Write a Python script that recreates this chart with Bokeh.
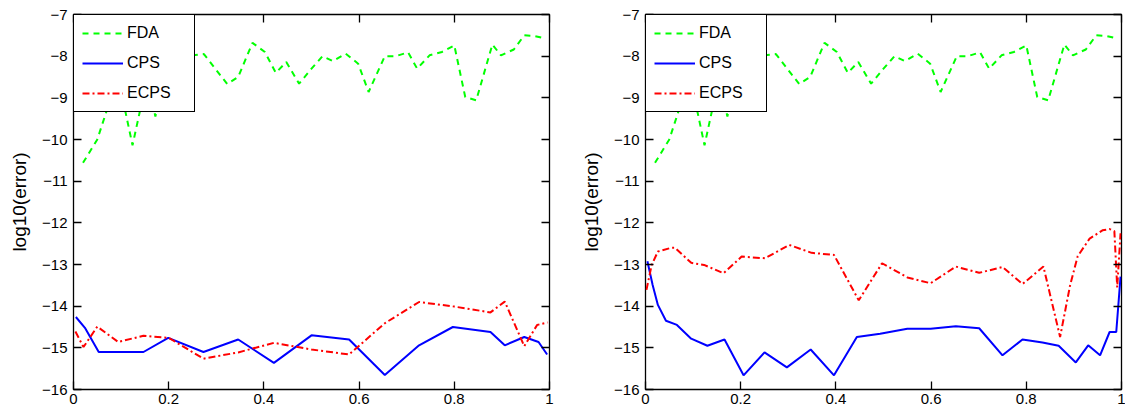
from bokeh.plotting import figure
from bokeh.models import Range1d, FixedTicker, LinearAxis, CustomJSTickFormatter
from bokeh.layouts import row
from bokeh.embed import file_html
from bokeh.resources import INLINE

# ---------------- data ----------------
x_ticks = [0, 0.2, 0.4, 0.6, 0.8, 1]
x_tick_labels = ["0", "0.2", "0.4", "0.6", "0.8", "1"]
y_ticks = [-7, -8, -9, -10, -11, -12, -13, -14, -15, -16]
y_tick_labels = ["\u22127", "\u22128", "\u22129", "\u221210", "\u221211",
                 "\u221212", "\u221213", "\u221214", "\u221215", "\u221216"]
y_label = "log10(error)"
series_names = ["FDA", "CPS", "ECPS"]

# FDA (same in both panels)
fda_x = [0.02, 0.05, 0.07, 0.09, 0.124, 0.155, 0.172, 0.2, 0.225, 0.25,
         0.274, 0.323, 0.346, 0.376, 0.402, 0.425, 0.447, 0.474, 0.5, 0.523,
         0.545, 0.572, 0.598, 0.62, 0.654, 0.677, 0.703, 0.722, 0.748, 0.774,
         0.8, 0.823, 0.846, 0.88, 0.898, 0.925, 0.947, 0.97, 0.992]
fda_y = [-10.56, -10.0, -9.3, -8.3, -10.14, -8.5, -9.45, -8.1, -8.4, -7.98,
         -7.95, -8.67, -8.5, -7.68, -7.9, -8.4, -8.14, -8.66, -8.3, -8.0,
         -8.12, -7.94, -8.18, -8.86, -8.0, -8.0, -7.91, -8.3, -7.98, -7.9,
         -7.74, -8.98, -9.06, -7.72, -7.98, -7.84, -7.5, -7.52, -7.58]

# left panel
cps_left_x = [0.005, 0.024, 0.053, 0.147, 0.199, 0.273, 0.346, 0.421, 0.5,
              0.579, 0.654, 0.726, 0.797, 0.876, 0.906, 0.947, 0.977, 0.995]
cps_left_y = [-14.26, -14.52, -15.1, -15.1, -14.76, -15.1, -14.8, -15.36, -14.7,
              -14.8, -15.65, -14.94, -14.5, -14.62, -14.94, -14.74, -14.86, -15.16]
ecps_left_x = [0.004, 0.021, 0.05, 0.094, 0.147, 0.2, 0.273, 0.346, 0.421, 0.5,
               0.579, 0.654, 0.726, 0.8, 0.876, 0.906, 0.947, 0.974, 0.996]
ecps_left_y = [-14.61, -14.98, -14.49, -14.86, -14.71, -14.76, -15.26, -15.11,
               -14.88, -15.04, -15.16, -14.41, -13.9, -14.01, -14.15, -13.89,
               -14.96, -14.45, -14.39]

# right panel
cps_right_x = [0.004, 0.015, 0.026, 0.043, 0.066, 0.096, 0.13, 0.166, 0.206, 0.25,
               0.297, 0.347, 0.396, 0.444, 0.493, 0.55, 0.599, 0.652, 0.701, 0.75,
               0.792, 0.834, 0.868, 0.904, 0.93, 0.955, 0.975, 0.989, 0.998]
cps_right_y = [-12.92, -13.49, -13.97, -14.35, -14.45, -14.78, -14.95, -14.8, -15.66,
               -15.11, -15.47, -15.04, -15.66, -14.74, -14.66, -14.54, -14.54, -14.48,
               -14.53, -15.18, -14.8, -14.87, -14.95, -15.35, -14.94, -15.18, -14.62,
               -14.62, -13.29]
ecps_right_x = [0.002, 0.013, 0.026, 0.054, 0.062, 0.096, 0.123, 0.164, 0.202, 0.251,
                0.302, 0.349, 0.396, 0.448, 0.497, 0.55, 0.599, 0.652, 0.701, 0.75,
                0.792, 0.836, 0.871, 0.892, 0.908, 0.933, 0.96, 0.975, 0.985, 0.991,
                0.998]
ecps_right_y = [-13.61, -13.01, -12.69, -12.6, -12.6, -12.96, -13.01, -13.21, -12.81,
                -12.85, -12.53, -12.72, -12.77, -13.86, -12.97, -13.31, -13.45, -13.05,
                -13.2, -13.06, -13.47, -13.05, -14.74, -13.5, -12.8, -12.38, -12.18,
                -12.15, -12.2, -13.55, -12.25]

FONT = "Liberation Sans"


def make_panel(cps_x, cps_y, ecps_x, ecps_y, width, border_right):
    p = figure(width=width, height=410,
               x_range=Range1d(0, 1), y_range=Range1d(-16, -7),
               output_backend="svg", toolbar_location=None,
               min_border_left=73, min_border_right=border_right,
               min_border_top=14, min_border_bottom=21)
    p.grid.visible = False
    p.background_fill_color = "white"
    p.border_fill_color = "white"
    p.outline_line_color = "black"
    p.outline_line_alpha = 1
    p.outline_line_width = 1.3

    p.line(fda_x, fda_y, color="#00ff00", line_width=2, line_dash="6 5",
           legend_label=series_names[0])
    p.line(cps_x, cps_y, color="#0000ff", line_width=2,
           legend_label=series_names[1])
    p.line(ecps_x, ecps_y, color="#ff0000", line_width=2, line_dash="7 3 2 3",
           legend_label=series_names[2])

    p.xaxis.ticker = FixedTicker(ticks=x_ticks, minor_ticks=[])
    p.yaxis.ticker = FixedTicker(ticks=y_ticks, minor_ticks=[])
    p.xaxis.major_label_overrides = {float(t): l for t, l in zip(x_ticks, x_tick_labels)}
    p.yaxis.major_label_overrides = {float(t): l for t, l in zip(y_ticks, y_tick_labels)}
    p.yaxis.axis_label = y_label
    p.yaxis.axis_label_text_font = FONT
    p.yaxis.axis_label_text_font_size = "19px"
    p.yaxis.axis_label_text_font_style = "normal"
    p.yaxis.axis_label_text_color = "black"
    p.yaxis.axis_label_standoff = 9
    p.yaxis.major_label_standoff = 6
    p.xaxis.major_label_standoff = 4

    for ax in p.axis:
        ax.axis_line_color = None
        ax.major_tick_in = 8
        ax.major_tick_out = 0
        ax.minor_tick_in = 0
        ax.minor_tick_out = 0
        ax.major_tick_line_color = "black"
        ax.major_tick_line_width = 1.3
        ax.major_label_text_font = FONT
        ax.major_label_text_font_size = "15px"
        ax.major_label_text_color = "black"

    # mirrored tick axes (MATLAB box style)
    for side, ticks in (("right", y_ticks), ("above", x_ticks)):
        ax = LinearAxis(ticker=FixedTicker(ticks=ticks, minor_ticks=[]),
                        formatter=CustomJSTickFormatter(code="return ''"),
                        axis_line_color=None, major_tick_in=8, major_tick_out=0,
                        minor_tick_in=0, minor_tick_out=0,
                        major_tick_line_color="black", major_tick_line_width=1.3,
                        major_label_standoff=0, major_label_text_font_size="0px")
        p.add_layout(ax, side)

    lg = p.legend[0]
    lg.location = "top_left"
    lg.margin = 0
    lg.padding = 8
    lg.spacing = 10
    lg.glyph_width = 41
    lg.glyph_height = 20
    lg.label_height = 20
    lg.label_width = 59
    lg.label_standoff = 4
    lg.label_text_font = FONT
    lg.label_text_font_size = "16px"
    lg.label_text_color = "black"
    lg.border_line_color = "black"
    lg.border_line_width = 1.3
    lg.border_line_alpha = 1
    lg.background_fill_color = "white"
    lg.background_fill_alpha = 1
    return p


p1 = make_panel(cps_left_x, cps_left_y, ecps_left_x, ecps_left_y, 572, 23)
p2 = make_panel(cps_right_x, cps_right_y, ecps_right_x, ecps_right_y, 553, 4)
layout = row(p1, p2)

open("out.html", "w").write(file_html(layout, INLINE))
